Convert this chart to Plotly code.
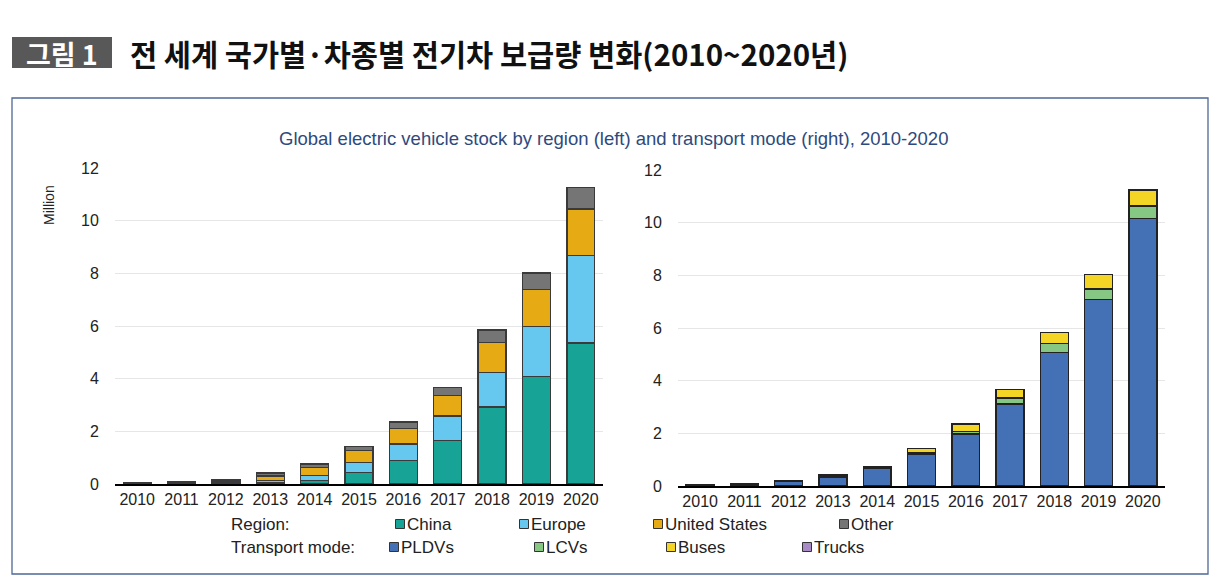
import plotly.graph_objects as go

years = ["2010", "2011", "2012", "2013", "2014", "2015", "2016", "2017", "2018", "2019", "2020"]

# Left: stock by region (million)
china = [0.005, 0.01, 0.02, 0.05, 0.13, 0.43, 0.90, 1.65, 2.92, 4.08, 5.36]
europe = [0.01, 0.02, 0.05, 0.08, 0.19, 0.38, 0.62, 0.94, 1.31, 1.89, 3.31]
united_states = [0.005, 0.02, 0.07, 0.18, 0.31, 0.46, 0.58, 0.76, 1.14, 1.42, 1.77]
other = [0.02, 0.02, 0.04, 0.11, 0.13, 0.16, 0.25, 0.32, 0.48, 0.62, 0.82]

# Right: stock by transport mode (million)
pldvs = [0.04, 0.08, 0.19, 0.34, 0.67, 1.21, 1.97, 3.11, 5.08, 7.09, 10.16]
lcvs = [0.005, 0.01, 0.02, 0.05, 0.05, 0.06, 0.11, 0.23, 0.33, 0.39, 0.47]
buses = [0.005, 0.01, 0.01, 0.05, 0.03, 0.16, 0.27, 0.33, 0.42, 0.56, 0.61]
trucks = [0.0, 0.0, 0.0, 0.0, 0.0, 0.0, 0.0, 0.0, 0.0, 0.0, 0.03]

y_ticks = [0, 2, 4, 6, 8, 10, 12]

region_names = ["China", "Europe", "United States", "Other"]
region_colors = ["#17a395", "#66c7ef", "#e6aa14", "#757575"]
mode_names = ["PLDVs", "LCVs", "Buses", "Trucks"]
mode_colors = ["#4470b6", "#86c784", "#f4d424", "#a88bc6"]

W, H = 1230, 582
def px(x):
    return x / W
def py(y):
    return 1 - y / H

fig = go.Figure()

for name, vals, col in zip(region_names, [china, europe, united_states, other], region_colors):
    fig.add_trace(go.Bar(x=years, y=vals, name=name, marker=dict(color=col, line=dict(color="#3a3a3a", width=1.4)),
                         xaxis="x", yaxis="y", showlegend=False))
for name, vals, col in zip(mode_names, [pldvs, lcvs, buses, trucks], mode_colors):
    fig.add_trace(go.Bar(x=years, y=vals, name=name, marker=dict(color=col, line=dict(color="#222222", width=1.4)),
                         xaxis="x2", yaxis="y2", showlegend=False))

tickfont = dict(family="Liberation Sans, Arial, sans-serif", size=16, color="#222222")
common_x = dict(type="category", showgrid=False, showline=True, linecolor="#000000", linewidth=1.5,
                ticks="", tickfont=tickfont, zeroline=False)
common_y = dict(range=[0, 12], tickvals=y_ticks, showgrid=True, gridcolor="#e6e6e6", gridwidth=1,
                zeroline=False, showline=False, ticks="outside", ticklen=12, tickcolor="rgba(0,0,0,0)",
                tickfont=tickfont)

fig.update_layout(
    width=W, height=H, autosize=False,
    margin=dict(l=0, r=0, t=0, b=0, autoexpand=False),
    paper_bgcolor="white", plot_bgcolor="white",
    barmode="stack", bargap=0.37,
    xaxis=dict(domain=[px(115), px(603)], anchor="y", **common_x),
    yaxis=dict(domain=[py(484), py(168)], anchor="x", **common_y),
    xaxis2=dict(domain=[px(678), px(1165)], anchor="y2", **common_x),
    yaxis2=dict(domain=[py(486), py(170)], anchor="x2", **common_y),
    font=dict(family="Liberation Sans, Arial, sans-serif"),
)

shapes = []
annotations = []

# Outer frame
shapes.append(dict(type="rect", xref="paper", yref="paper", x0=px(12), x1=px(1208), y0=py(574), y1=py(98),
                   line=dict(color="#4f6897", width=1.3), fillcolor="rgba(0,0,0,0)"))
# Header label box
shapes.append(dict(type="rect", xref="paper", yref="paper", x0=px(12), x1=px(112), y0=py(68), y1=py(37),
                   line=dict(width=0), fillcolor="#585858"))
annotations.append(dict(text="<b>그림 1</b>", xref="paper", yref="paper", x=px(62), y=py(53), showarrow=False,
                        xanchor="center", yanchor="middle",
                        font=dict(family="Noto Sans CJK KR", size=27, color="white")))
annotations.append(dict(text="<b>전 세계 국가별·차종별 전기차 보급량 변화(2010~2020년)</b>", xref="paper", yref="paper",
                        x=px(128), y=py(53), showarrow=False, xanchor="left", yanchor="middle",
                        font=dict(family="Noto Sans CJK KR", size=29.5, color="#111111")))
# Chart title
annotations.append(dict(text="Global electric vehicle stock by region (left) and transport mode (right), 2010-2020",
                        xref="paper", yref="paper", x=px(613), y=py(138), showarrow=False,
                        xanchor="center", yanchor="middle",
                        font=dict(family="Liberation Sans, Arial, sans-serif", size=18.5, color="#2e4a7d")))
# Y unit
annotations.append(dict(text="Million", xref="paper", yref="paper", x=px(49), y=py(205), showarrow=False,
                        textangle=-90, xanchor="center", yanchor="middle",
                        font=dict(family="Liberation Sans, Arial, sans-serif", size=14, color="#222222")))

# Custom legend
lfont = dict(family="Liberation Sans, Arial, sans-serif", size=17, color="#222222")
annotations.append(dict(text="Region:", xref="paper", yref="paper", x=px(229), y=py(524), showarrow=False,
                        xanchor="left", yanchor="middle", font=lfont))
annotations.append(dict(text="Transport mode:", xref="paper", yref="paper", x=px(229), y=py(547), showarrow=False,
                        xanchor="left", yanchor="middle", font=lfont))
region_sq_x = [400, 524, 658, 844]
mode_sq_x = [394, 539, 671, 807]
for names, cols, xs, yrow in [(region_names, region_colors, region_sq_x, 524), (mode_names, mode_colors, mode_sq_x, 547)]:
    for n, c, x in zip(names, cols, xs):
        shapes.append(dict(type="rect", xref="paper", yref="paper", x0=px(x - 4.5), x1=px(x + 4.5),
                           y0=py(yrow + 4.5), y1=py(yrow - 4.5), fillcolor=c, line=dict(color="#333333", width=1)))
        annotations.append(dict(text=n, xref="paper", yref="paper", x=px(x + 5), y=py(yrow), showarrow=False,
                                xanchor="left", yanchor="middle", font=lfont))

fig.update_layout(shapes=shapes, annotations=annotations)
fig.write_html("out.html", config={"displayModeBar": False},
               post_script="document.body.style.margin='0';document.body.style.overflow='hidden';")
